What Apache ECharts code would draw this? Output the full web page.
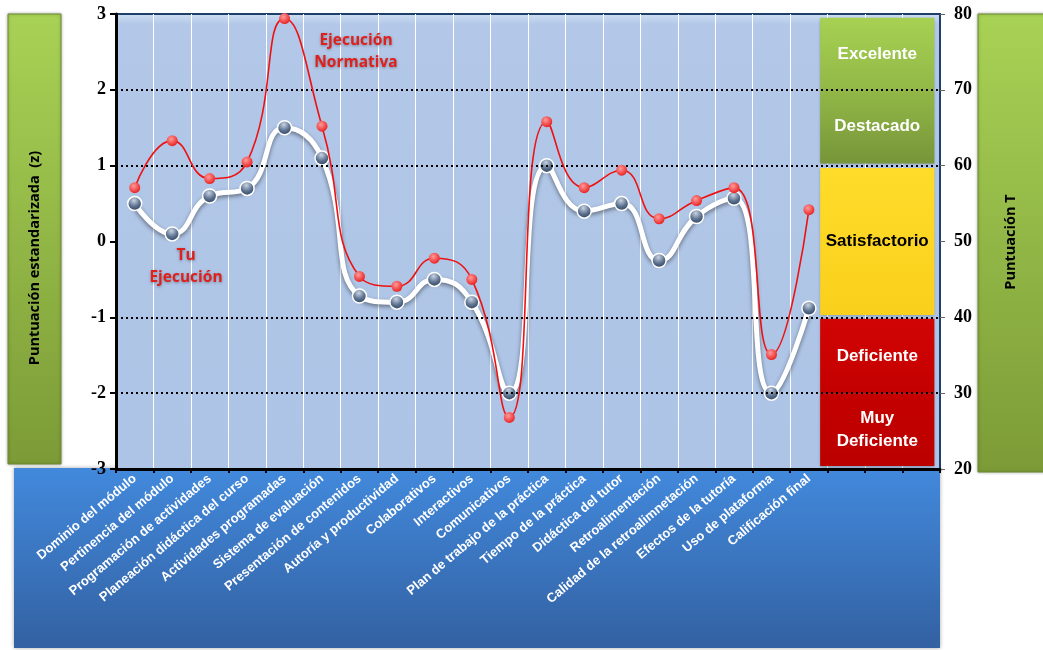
<!DOCTYPE html>
<html>
<head>
<meta charset="utf-8">
<script src="https://cdn.jsdelivr.net/npm/echarts@6/dist/echarts.min.js"></script>
<style>
  html, body { margin: 0; padding: 0; background: #fff; }
  #chart { width: 1043px; height: 650px; }
</style>
</head>
<body>
<div id="chart"></div>
<script>
// categorias (las 3 ultimas vacias, bajo los recuadros de nivel)
var categories = ['Dominio del módulo', 'Pertinencia del módulo', 'Programación de actividades',
    'Planeación didáctica del curso', 'Actividades programadas', 'Sistema de evaluación',
    'Presentación de contenidos', 'Autoría y productividad', 'Colaborativos', 'Interactivos',
    'Comunicativos', 'Plan de trabajo de la práctica', 'Tiempo de la práctica', 'Didáctica del tutor',
    'Retroalimentación', 'Calidad de la retroalimnetación', 'Efectos de la tutoría',
    'Uso de plataforma', 'Calificación final', ' ', '  ', '   '];

// puntuacion z
var tuEjecucion = [0.5, 0.1, 0.6, 0.7, 1.5, 1.1, -0.72, -0.8, -0.5, -0.8, -2.0, 1.0, 0.4, 0.5, -0.25, 0.33, 0.57, -2.0, -0.88];
var normativa = [0.71, 1.33, 0.83, 1.05, 2.94, 1.52, -0.46, -0.59, -0.22, -0.5, -2.32, 1.58, 0.71, 0.94, 0.3, 0.54, 0.71, -1.49, 0.42];

// niveles en puntuacion T
var bandNames = ['Excelente', 'Destacado', 'Satisfactorio', 'Deficiente', 'Muy\nDeficiente'];
var bandTop = [79.5, 70, 59.7, 39.8, 30];
var bandBottom = [70, 60.3, 40.3, 30, 20.4];
var bandColors = [['#a6d153', '#92b847'], ['#92b847', '#779539'], ['#ffdc2a', '#f9d01c'],
    ['#d10404', '#c40000'], ['#c40000', '#bb0000']];
var bandText = ['#fff', '#fff', '#000', '#fff', '#fff'];
var bandX = [18.8, 21.85]; // en unidades de categoria

// lineas punteadas (T)
var refLines = [70, 60, 40, 30];

var zTicks = { min: -3, max: 3, interval: 1 };
var tTicks = { min: 20, max: 80, interval: 10 };

var chart = echarts.init(document.getElementById('chart'));
var LG = echarts.graphic.LinearGradient;
var RG = echarts.graphic.RadialGradient;

var bands = bandNames.map(function (name, i) {
    return [
        {
            name: name,
            xAxis: bandX[0],
            yAxis: bandTop[i],
            itemStyle: {
                color: new LG(0, 0, 0, 1, [
                    { offset: 0, color: bandColors[i][0] },
                    { offset: 1, color: bandColors[i][1] }
                ])
            },
            label: { color: bandText[i] }
        },
        { xAxis: bandX[1], yAxis: bandBottom[i] }
    ];
});

var option = {
    backgroundColor: '#fff',
    animation: false,
    grid: {
        left: 116, right: 103, top: 14, bottom: 181,
        show: true,
        backgroundColor: new LG(0, 0, 0, 1, [
            { offset: 0, color: '#cfe0f4' },
            { offset: 0.025, color: '#b3c8e8' },
            { offset: 1, color: '#adc4e6' }
        ]),
        borderColor: '#1f3f6b',
        borderWidth: 2
    },
    graphic: [
        {
            type: 'rect', z: -10,
            shape: { x: 14, y: 468, width: 926, height: 180 },
            style: {
                fill: new LG(0, 0, 0, 1, [
                    { offset: 0, color: '#4289dc' },
                    { offset: 1, color: '#3361a2' }
                ]),
                shadowBlur: 4, shadowColor: 'rgba(0,0,0,0.35)'
            }
        },
        {
            type: 'rect', z: -10,
            shape: { x: 8, y: 14, width: 53, height: 450 },
            style: {
                fill: new LG(0, 0, 0, 1, [
                    { offset: 0, color: '#a8d255' },
                    { offset: 1, color: '#7c9b37' }
                ]),
                stroke: '#6f8c30', lineWidth: 1,
                shadowBlur: 3, shadowColor: 'rgba(0,0,0,0.3)'
            }
        },
        {
            type: 'rect', z: -10,
            shape: { x: 978, y: 14, width: 70, height: 458 },
            style: {
                fill: new LG(0, 0, 0, 1, [
                    { offset: 0, color: '#a8d255' },
                    { offset: 1, color: '#7c9b37' }
                ]),
                stroke: '#6f8c30', lineWidth: 1,
                shadowBlur: 3, shadowColor: 'rgba(0,0,0,0.3)'
            }
        },
        {
            type: 'text', x: 35, y: 258, rotation: Math.PI / 2,
            style: {
                text: 'Puntuación estandarizada  (z)',
                font: 'bold 14.5px "Open Sans", sans-serif',
                fill: '#000', align: 'center', verticalAlign: 'middle'
            }
        },
        {
            type: 'text', x: 1011, y: 242, rotation: Math.PI / 2,
            style: {
                text: 'Puntuación T',
                font: 'bold 14.5px "Open Sans", sans-serif',
                fill: '#000', align: 'center', verticalAlign: 'middle'
            }
        },
        {
            type: 'text', x: 186, y: 267, z: 20,
            style: {
                text: 'Tu\nEjecución',
                font: 'bold 15.5px "Open Sans", sans-serif',
                lineHeight: 22,
                fill: '#e0201c', align: 'center', verticalAlign: 'middle',
                textShadowBlur: 3, textShadowColor: 'rgba(0,0,0,0.35)', textShadowOffsetY: 1
            }
        },
        {
            type: 'text', x: 356, y: 52, z: 20,
            style: {
                text: 'Ejecución\nNormativa',
                font: 'bold 15.5px "Open Sans", sans-serif',
                lineHeight: 22,
                fill: '#e0201c', align: 'center', verticalAlign: 'middle',
                textShadowBlur: 3, textShadowColor: 'rgba(0,0,0,0.35)', textShadowOffsetY: 1
            }
        }
    ],
    xAxis: [
        {
            type: 'category',
            data: categories,
            boundaryGap: true,
            axisLine: { onZero: false, lineStyle: { color: '#000', width: 3 } },
            axisTick: { show: true, interval: 0, length: 4, lineStyle: { color: '#000', width: 2 } },
            splitLine: { show: true, interval: 0, lineStyle: { color: '#ffffff', width: 1 } },
            axisLabel: {
                interval: 0, rotate: 40, margin: 8,
                color: '#fff', fontWeight: 'bold', fontSize: 13,
                fontFamily: 'Liberation Sans, Arial, sans-serif'
            }
        },
        {
            type: 'value', show: false, min: 0, max: 22
        }
    ],
    yAxis: [
        {
            type: 'value',
            min: zTicks.min, max: zTicks.max, interval: zTicks.interval,
            position: 'left',
            axisLine: { show: true, onZero: false, lineStyle: { color: '#000', width: 3 } },
            axisTick: { show: true, length: 6, lineStyle: { color: '#000', width: 2 } },
            splitLine: { show: false },
            axisLabel: {
                color: '#000', fontWeight: 'bold', fontSize: 18, margin: 10,
                fontFamily: 'Liberation Serif, DejaVu Serif, serif'
            }
        },
        {
            type: 'value',
            min: tTicks.min, max: tTicks.max, interval: tTicks.interval,
            position: 'right',
            axisLine: { show: true, onZero: false, lineStyle: { color: '#1f3f6b', width: 2 } },
            axisTick: { show: true, length: 5, lineStyle: { color: '#666', width: 1 } },
            splitLine: { show: false },
            axisLabel: {
                color: '#000', fontWeight: 'bold', fontSize: 18, margin: 14,
                fontFamily: 'Liberation Serif, DejaVu Serif, serif'
            }
        }
    ],
    series: [
        {
            name: 'niveles',
            type: 'line',
            xAxisIndex: 1, yAxisIndex: 1,
            data: [],
            z: 1,
            markArea: {
                silent: true,
                itemStyle: {
                    shadowBlur: 3, shadowColor: 'rgba(0,0,0,0.3)', shadowOffsetY: 1
                },
                label: {
                    show: true, position: 'inside',
                    fontSize: 17, fontWeight: 'bold', lineHeight: 23,
                    fontFamily: 'Liberation Sans, Arial, sans-serif'
                },
                data: bands
            }
        },
        {
            name: 'referencias',
            type: 'line',
            xAxisIndex: 1, yAxisIndex: 1,
            data: [],
            z: 3,
            markLine: {
                silent: true,
                symbol: 'none',
                label: { show: false },
                lineStyle: { color: '#000', type: [2, 3], width: 2 },
                data: refLines.map(function (v) { return { yAxis: v }; })
            }
        },
        {
            name: 'Ejecución Normativa',
            type: 'line',
            smooth: 0.5,
            data: normativa,
            z: 5,
            symbol: 'circle',
            symbolSize: 11,
            lineStyle: { color: '#ee1111', width: 1.6 },
            itemStyle: {
                color: new RG(0.4, 0.35, 0.7, [
                    { offset: 0, color: '#ff9a9a' },
                    { offset: 1, color: '#e81c1c' }
                ])
            }
        },
        {
            name: 'Tu Ejecución',
            type: 'line',
            smooth: 0.5,
            data: tuEjecucion,
            z: 4,
            symbol: 'circle',
            symbolSize: 14,
            lineStyle: {
                color: '#ffffff', width: 5,
                shadowBlur: 4, shadowColor: 'rgba(0,0,0,0.45)', shadowOffsetY: 2
            },
            itemStyle: {
                color: new RG(0.45, 0.3, 0.75, [
                    { offset: 0, color: '#c9d3e2' },
                    { offset: 0.5, color: '#5f7492' },
                    { offset: 1, color: '#1f3550' }
                ]),
                borderColor: '#ffffff', borderWidth: 1.5
            }
        }
    ]
};

chart.setOption(option);
</script>
</body>
</html>
